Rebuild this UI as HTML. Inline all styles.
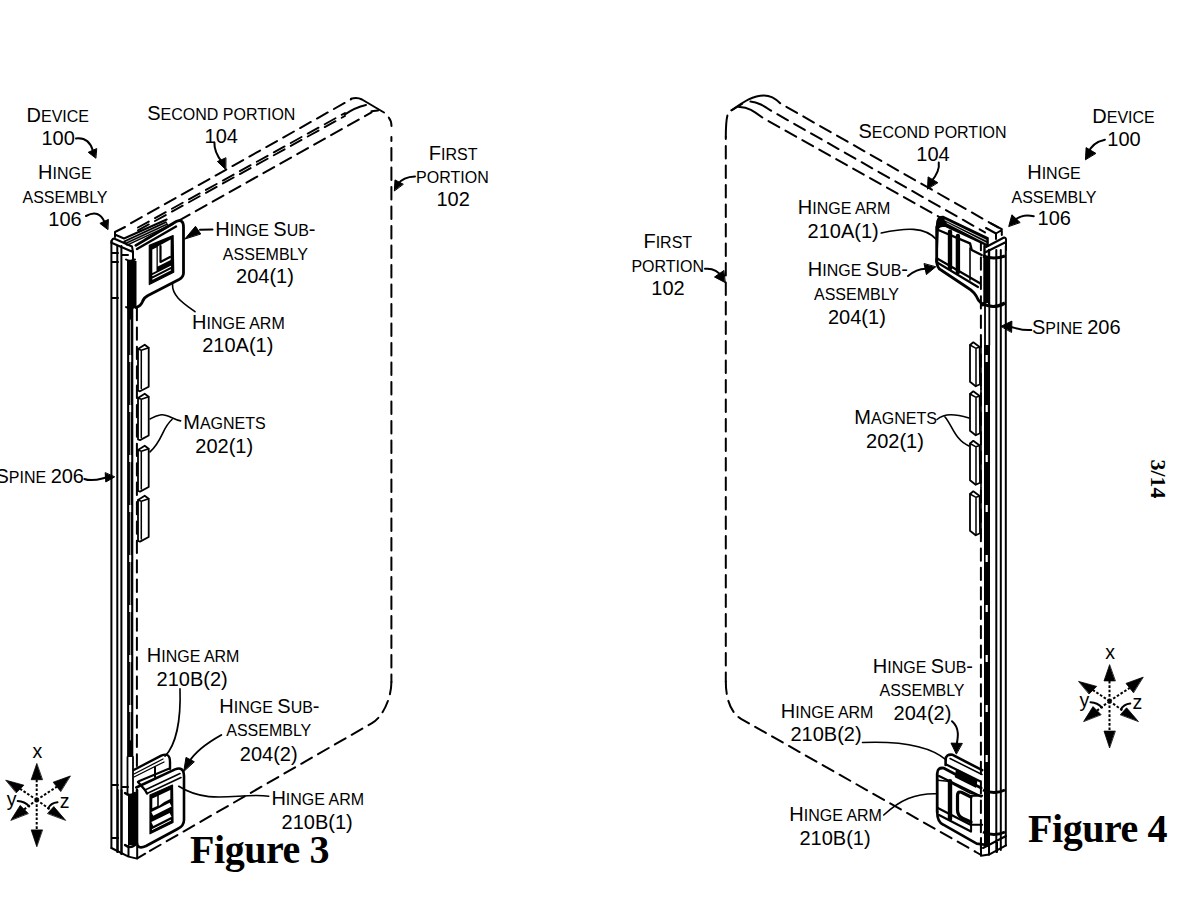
<!DOCTYPE html>
<html><head><meta charset="utf-8"><style>
html,body{margin:0;padding:0;background:#fff;width:1192px;height:900px;overflow:hidden}
svg{position:absolute;left:0;top:0}
text{font-family:"Liberation Sans",sans-serif;fill:#000}
.fig{font-family:"Liberation Serif",serif;font-weight:bold;font-size:40px;fill:#000;letter-spacing:-0.45px}
</style></head><body>
<svg width="1192" height="900" viewBox="0 0 1192 900">
<g fill="none" stroke="#000" stroke-width="2" stroke-linecap="round" stroke-linejoin="round">
<path d="M131,223.1 L351,99.4" stroke-dasharray="12.3 7.1"/>
<path d="M138,227.5 L345,113" stroke-dasharray="12.3 7.1" stroke-width="1.9"/>
<path d="M138,230.4 L345,115.9" stroke-dasharray="12.3 7.1" stroke-width="1.9"/>
<path d="M145,239.6 L371.5,112.4" stroke-dasharray="12.3 7.1"/>
<path d="M351,98.8 Q357,96.8 362,99.5 L384,112.5"/>
<path d="M345,114.4 Q355,107.5 366,105"/>
<path d="M371.5,111.3 L378,110.5"/>
<path d="M388.8,117.6 Q391.5,121 391.5,126"/>
<path d="M391.4,137 L391.4,682" stroke-dasharray="12.4 7.1" stroke-dashoffset="8.4"/>
<path d="M391.4,682 C391.4,697 383.5,716.5 372,723.1 L145,853.7" stroke-dasharray="12.3 7.1"/>
<path d="M137.2,858.3 L145.2,853.7"/>
<path d="M111.4,241 L111.4,848"/>
<path d="M117.3,246 L117.3,852"/>
<path d="M121.4,246 L121.4,854"/>
<rect x="127.1" y="307" width="6.2" height="450" fill="#000" stroke="none"/>
<path d="M130.4,320 L130.4,740" stroke="#fff" stroke-width="0.7"/>
<path d="M130.2,313 L130.2,745" stroke="#fff" stroke-width="2" stroke-dasharray="7 43" stroke-dashoffset="8" stroke-linecap="butt"/>
<path d="M136.9,308 L136.9,766" stroke-dasharray="12.3 7.1"/>
<path d="M115,232 L125,227 M115,232 L115,237 M116,235 L124,238.5 L166.7,219.5" stroke-width="2"/>
<path d="M124,241.5 L166,222 L168,226 L127,245 Z" fill="#000" stroke-width="1.4"/>
<path d="M126,242 L166,223.5 M127,244 L167,225.5" stroke="#fff" stroke-width="0.7"/>
<path d="M111.4,243 Q111.5,239 114,238.5 L132,246.5 L133,252 L112,243" stroke-width="2"/>
<path d="M128,261 L128,307 M133,252 L133,307" stroke-width="2"/>
<rect x="128" y="261" width="8.5" height="46" fill="#000" stroke="none"/>
<path d="M126,259.5 Q130,262 135,259.5 M126,307 Q130,310 135,307" stroke="#000" stroke-width="2"/>
<path d="M112,253 L118,253 M122,255 L128,255 M112,262 L118,262 M112,298 L118,298" stroke-width="2"/>
<path d="M135.9,245.4 L176.2,221.5 Q183.5,218.5 183.5,227 L183.5,273 Q183.5,277 179,279.5 L148,295.5 Q143.5,298 142.5,301.5 Q141,306 136,307.5" stroke-width="2.8"/>
<path d="M137,249 L176,226.5" stroke-width="2.4"/>
<path d="M149.3,245.4 L173.1,235.6 L173.7,272.3 L149.3,284.5 Z" fill="#000" stroke-width="1.2"/>
<path d="M152.3,249.5 L156.5,247.6 L156.5,271 L152.3,273 Z" fill="#fff" stroke="none"/>
<path d="M157.8,246.5 L170.6,239.6 L170.6,260 L157.8,266.5 Z" fill="#fff" stroke="none"/>
<path d="M160.5,246 L160.5,262 L170,257" stroke="#000" stroke-width="2.2"/>
<path d="M152.8,275.5 L170.5,266.5 M152.8,279 L170.5,270" stroke="#fff" stroke-width="1.2"/>
<path d="M138,349 L144.7,344.7 L148.7,347.7 L148.7,386.7 L140,391.3 L138,390.7 Z" stroke-width="1.8"/>
<path d="M138,349 L141.3,350.3 L148.7,347.7 M141.3,350.3 L141.3,388.7" stroke-width="1.5"/>
<path d="M138,398 L144.7,393.7 L148.7,396.7 L148.7,435.5 L140,440.1 L138,439.5 Z" stroke-width="1.8"/>
<path d="M138,398 L141.3,399.3 L148.7,396.7 M141.3,399.3 L141.3,437.5" stroke-width="1.5"/>
<path d="M138,450 L144.7,445.7 L148.7,448.7 L148.7,487 L140,491.6 L138,491 Z" stroke-width="1.8"/>
<path d="M138,450 L141.3,451.3 L148.7,448.7 M141.3,451.3 L141.3,489" stroke-width="1.5"/>
<path d="M138,500 L144.7,495.7 L148.7,498.7 L148.7,537 L140,541.6 L138,541 Z" stroke-width="1.8"/>
<path d="M138,500 L141.3,501.3 L148.7,498.7 M141.3,501.3 L141.3,539" stroke-width="1.5"/>
<path d="M133.75,770 L161.25,755.6 Q170,752 170,762 L170,768.75" stroke-width="2.4"/>
<path d="M134,774 L163,759 M134,777 L164,762" stroke-width="1.3"/>
<path d="M138.75,781.25 L168.75,768.75" stroke-width="2"/>
<path d="M155,767 L155,777" stroke-width="2"/>
<path d="M136.25,787.5 L175,769.4 Q183.75,766 184,776 L184,820 Q184,826 177.5,829 L146,846 Q137,850 137,842 L137,790" stroke-width="2.6"/>
<path d="M145,790 L180,773.5 M147,793.5 L181,777.5" stroke-width="1.6"/>
<path d="M138,782 L145,790 L147,793.5" stroke-width="2.4"/>
<path d="M150,795 L172.5,785 L173,822.5 L150,833.75 Z" fill="#000" stroke-width="1.2"/>
<path d="M152.3,798.5 L157.2,796.3 L157.2,806 L152.3,808.3 Z" fill="#fff" stroke="none"/>
<path d="M158.8,795.5 L170.3,790 L170.3,799 Q165,801 158.8,806 Z" fill="#fff" stroke="none"/>
<path d="M152.3,813.8 L170.6,804.6 M152.3,824 L170.6,814.8" stroke="#fff" stroke-width="4.2" stroke-linecap="butt"/>
<path d="M152.3,829.5 L170.6,820.3" stroke="#fff" stroke-width="1"/>
<path d="M127.5,757 L127.5,794 M133,757 L133,794" stroke-width="1.8"/>
<rect x="128" y="794" width="8.5" height="51" fill="#000" stroke="none"/>
<path d="M125,793 Q130,797 135,793 M125,845 Q130,849 135,845" stroke="#000" stroke-width="2.4"/>
<path d="M112,785 L118,785 M122,787 L128,787 M112,838 L118,838" stroke-width="2"/>
<path d="M111.4,848 L128.5,856.6 L137.2,858.6 L137.2,846 M128.5,846 L128.5,856.6" stroke-width="2"/>
<path d="M117.7,790 L117.7,852 M121.6,790 L121.6,854" stroke-width="2"/>
<path d="M76,138.5 Q89,137 93,151" stroke-width="2"/>
<path d="M95.6,158.0 L88.2,152.3 L96.4,148.7Z" fill="#000" stroke="#000" stroke-width="1"/>
<path d="M86,216 Q99,209 104.5,222" stroke-width="2"/>
<path d="M107.7,229.4 L99.9,223.4 L108.1,219.6Z" fill="#000" stroke="#000" stroke-width="1"/>
<path d="M214.4,142.5 Q214,152 222,162" stroke-width="2"/>
<path d="M225.6,169.4 L217.4,161.5 L225.6,157.9Z" fill="#000" stroke="#000" stroke-width="1"/>
<path d="M415,176.5 Q403,177 398,184" stroke-width="2"/>
<path d="M394.4,190.6 L395.0,179.9 L403.0,184.1Z" fill="#000" stroke="#000" stroke-width="1"/>
<path d="M212.5,229.5 L200,229.8" stroke-width="2"/>
<path d="M185.0,238.8 L195.5,226.3 L200.5,233.7Z" fill="#000" stroke="#000" stroke-width="1"/>
<path d="M195,311.7 C183,303 172,296 172.5,284" stroke-width="1.6"/>
<path d="M180.6,420.9 C172,419 166,413 160,415 C155,416 152,418 150,419 M172,419.5 C162,428 163,440 150,451.9" stroke-width="1.6"/>
<path d="M84.4,479 C92,482 100,479 106,477.5" stroke-width="2"/>
<path d="M114.4,477.0 L105.8,482.0 L105.2,473.0Z" fill="#000" stroke="#000" stroke-width="1"/>
<path d="M180,688.75 C181,720 176,745 165,756.25" stroke-width="1.6"/>
<path d="M221.25,735 C207,743 195,752 189,762" stroke-width="2"/>
<path d="M183.8,771.2 L186.0,757.4 L194.0,761.6Z" fill="#000" stroke="#000" stroke-width="1"/>
<path d="M268.75,796.25 C240,792 210,806 178.75,786.25" stroke-width="1.6"/>
<g transform="translate(36.7,799.9)">
<path d="M0,0 L0,-20 M0,0 L0,30 M0,0 L-16.5,-11 M0,0 L20.2,-13.2 M0,0 L-12.5,9.5 M0,0 L14,10" stroke-dasharray="2.6 1.8" stroke-width="2" stroke-linecap="butt"/>
<path d="M0.0,-36.1 L-5.5,-20.2 L5.5,-20.2Z" fill="#000" stroke="#000" stroke-width="0.8"/>
<path d="M0.0,46.5 L-5.5,30.0 L5.5,30.0Z" fill="#000" stroke="#000" stroke-width="0.8"/>
<path d="M-30.6,-19.6 L-12.8,-14.7 L-20.2,-7.3Z" fill="#000" stroke="#000" stroke-width="0.8"/>
<path d="M33.4,-23.8 L16.5,-17.7 L23.8,-8.6Z" fill="#000" stroke="#000" stroke-width="0.8"/>
<path d="M-25.7,20.2 L-16.5,5.5 L-8.6,13.4Z" fill="#000" stroke="#000" stroke-width="0.8"/>
<path d="M28.7,20.2 L17.1,6.7 L11.0,13.4Z" fill="#000" stroke="#000" stroke-width="0.8"/>
<path d="M-19,1.2 Q-12,1.5 -7.5,6.5 M20.8,2.4 Q14,3 11.5,8.5" stroke-width="2"/>
</g>
<path d="M780.2,103.3 L998,227.4" stroke-dasharray="12.3 7.1" stroke-dashoffset="12.3"/>
<path d="M771.1,110.7 L985,232.4" stroke-dasharray="12.3 7.1" stroke-dashoffset="12.3"/>
<path d="M762.3,117.7 L972,235.3" stroke-dasharray="12.3 7.1" stroke-dashoffset="12.3"/>
<path d="M731.5,110.3 C745,101 753,95.5 764,95.5 C771,95.5 776,99 780.2,103.3"/>
<path d="M731.5,110.3 L742,104 M750.4,101.5 C758,102 764,106 771.1,110.7"/>
<path d="M739,106.9 C748,106.5 755,112 762.3,117.5"/>
<path d="M727.4,115.4 Q725.8,122 725.8,137"/>
<path d="M725.8,137 L725.8,681.6" stroke-dasharray="12.4 7.1" stroke-dashoffset="10.4"/>
<path d="M725.8,681.6 C725.8,697 730,712.6 741,718.8 L975,851.5" stroke-dasharray="12.3 7.1"/>
<path d="M975,851.5 L981,855"/>
<path d="M1005.8,246 L1005.8,845.4"/>
<path d="M1000.8,250 L1000.8,850"/>
<path d="M996.3,250 L996.3,852"/>
<rect x="984" y="345" width="6" height="500" fill="#000" stroke="none"/>
<path d="M986.7,355 L986.7,790" stroke="#fff" stroke-width="2.2" stroke-dasharray="7 43" stroke-dashoffset="0" stroke-linecap="butt"/>
<path d="M985,303 L985,345 M989.3,303 L989.3,345" stroke-width="1.8"/>
<path d="M980.9,238 L980.9,850" stroke-dasharray="12.3 7.1"/>
<path d="M991,223.4 L1001.8,229.1 L1001.8,235 M1001.8,230 L996,233.5 L996,239 M996,233.5 L986,228" stroke-width="2"/>
<path d="M986,247 L1004,237.5 Q1006.5,237 1006,242 L1006,250 M986,252 L1006,242" stroke-width="2"/>
<path d="M983,256 Q994,260 1005,256" stroke-width="3" stroke-linecap="butt"/>
<path d="M982,303 Q993,310 1005,303" stroke-width="3.2" stroke-linecap="butt"/>
<path d="M984.5,246 L984.5,303 M989,250 L989,303" stroke-width="2.4"/>
<rect x="984" y="258" width="6" height="45" fill="#000" stroke="none"/>
<path d="M936.7,262 L936.7,225 Q936.7,216 943,216.5 L988,238 L988,246 L945,226 Q938,226 938,230 Z" fill="#000" stroke-width="1.6"/>
<path d="M945,220 L986,240 M947,223 L986,243" stroke="#fff" stroke-width="0.8"/>
<path d="M936.7,227 L936.7,262" stroke-width="2.8"/>
<path d="M938.3,230 L970,243.3 L971.7,250 L981.7,255" stroke-width="2.4"/>
<path d="M936.7,260 Q936.7,268 941,270 L968,288 Q975,292 978.3,300 L983,305" stroke-width="2.8"/>
<path d="M936.7,258.3 L980,283.3 M938,263 L978,287" stroke-width="2.2"/>
<path d="M950,231.7 L950,268.3 M957.9,236 L957.9,272" stroke-width="4.4"/>
<path d="M970,248 L970,280" stroke-width="1.6"/>
<path d="M970,345 L973.3,342.3 L979.7,347 L980,384.3 L975.7,386.3 L970,381.7 Z" fill="#fff" stroke-width="1.8"/>
<path d="M970,345 L976,348.3 L979.7,347 M976,348.3 L976,385.8" stroke-width="1.5"/>
<path d="M981,339 L981,389.3" stroke-width="1.6"/>
<path d="M970,394 L973.3,391.3 L979.7,396 L980,433.3 L975.7,435.3 L970,430.7 Z" fill="#fff" stroke-width="1.8"/>
<path d="M970,394 L976,397.3 L979.7,396 M976,397.3 L976,434.8" stroke-width="1.5"/>
<path d="M981,388 L981,438.3" stroke-width="1.6"/>
<path d="M970,443.5 L973.3,440.8 L979.7,445.5 L980,482.8 L975.7,484.8 L970,480.2 Z" fill="#fff" stroke-width="1.8"/>
<path d="M970,443.5 L976,446.8 L979.7,445.5 M976,446.8 L976,484.3" stroke-width="1.5"/>
<path d="M981,437.5 L981,487.8" stroke-width="1.6"/>
<path d="M970,494 L973.3,491.3 L979.7,496 L980,533.3 L975.7,535.3 L970,530.6999999999999 Z" fill="#fff" stroke-width="1.8"/>
<path d="M970,494 L976,497.3 L979.7,496 M976,497.3 L976,534.8" stroke-width="1.5"/>
<path d="M981,488 L981,538.3" stroke-width="1.6"/>
<path d="M945.6,765 L945.6,759.5 Q946,754 952.2,754.7 L982.2,770.2" stroke-width="2.6"/>
<path d="M950,758.5 L982,774.5" stroke-width="1.5"/>
<path d="M946.7,764.7 L980,781.3" stroke-width="2.2"/>
<path d="M956.7,769.7 L976.7,780.2 L975.6,786.9 L955.6,776.9 Z" fill="#000" stroke-width="1.6"/>
<path d="M937.2,812 L937.2,774 Q937.2,767 944,768.2 L981.1,788" stroke-width="2.8"/>
<path d="M939,776 L981,796.5" stroke-width="2.2"/>
<path d="M937.8,780.2 L947.8,781.3 L970,793 L981,795.8" stroke-width="1.6"/>
<path d="M937.2,812 Q937.2,822 943.3,824.7 L976.7,843.6 L987,845" stroke-width="2.6"/>
<path d="M950,781.3 L950,819" stroke-width="4.4"/>
<path d="M971,797 L963,793 Q957.5,790 957.5,796 L957.5,810 Q957.5,816 963,818.5 L971,822" stroke-width="3.2"/>
<path d="M937.8,808 L971,825 M939,815 L971,831.5" stroke-width="2.2"/>
<path d="M971.1,795.8 L971.1,831 M971.1,795.8 L982.2,795.8 M971.1,824.7 L982.2,824.7" stroke-width="2"/>
<path d="M983,790 Q994,795 1005,790 M983,832 Q994,837 1005,832" stroke-width="3" stroke-linecap="butt"/>
<path d="M1006,845.4 L989,854.6 L981,855.8 L981,838 M989,845 L989,855 M997,840 L997,852 M983,848 L1006,836" stroke-width="2"/>
<path d="M1104.9,139.75 C1095,142 1090,148 1088.5,153" stroke-width="2"/>
<path d="M1085.5,159.4 L1086.1,147.6 L1095.6,153.2Z" fill="#000" stroke="#000" stroke-width="1"/>
<path d="M1033.75,216.25 C1025,214 1018,217 1014,221" stroke-width="2"/>
<path d="M1008.8,226.2 L1011.9,214.8 L1019.9,222.3Z" fill="#000" stroke="#000" stroke-width="1"/>
<path d="M938.75,162.5 C940,170 936,176 931,182" stroke-width="2"/>
<path d="M927.5,188.8 L928.1,176.9 L937.6,182.5Z" fill="#000" stroke="#000" stroke-width="1"/>
<path d="M705,268.75 C714,268 719,272 722,277" stroke-width="2"/>
<path d="M725.0,282.5 L714.5,277.0 L723.6,270.7Z" fill="#000" stroke="#000" stroke-width="1"/>
<path d="M881.25,233 C905,228 925,226 937,240" stroke-width="1.6"/>
<path d="M908,276 C915,270 921,268 928,268.8" stroke-width="2"/>
<path d="M935.5,267.0 L926.4,274.6 L924.1,263.9Z" fill="#000" stroke="#000" stroke-width="1"/>
<path d="M1031.25,330 C1020,331 1015,327 1008,326.5" stroke-width="2"/>
<path d="M1001.2,326.2 L1011.9,321.1 L1011.6,332.1Z" fill="#000" stroke="#000" stroke-width="1"/>
<path d="M937,419.5 C945,413 955,414 969,418 M945,417 C952,425 955,440 969,446" stroke-width="1.6"/>
<path d="M952,721.25 C960,728 958,738 956.5,745" stroke-width="2"/>
<path d="M956.2,753.8 L951.0,743.1 L962.0,743.4Z" fill="#000" stroke="#000" stroke-width="1"/>
<path d="M862.5,742.5 C900,741 930,746 946.25,760" stroke-width="1.6"/>
<path d="M883.75,815 C900,800 915,793 937.5,793.75" stroke-width="1.6"/>
<g transform="translate(1109.5,701.1)">
<path d="M0,0 L0,-20 M0,0 L0,30 M0,0 L-16.5,-11 M0,0 L20.2,-13.2 M0,0 L-12.5,9.5 M0,0 L14,10" stroke-dasharray="2.6 1.8" stroke-width="2" stroke-linecap="butt"/>
<path d="M0.0,-36.1 L-5.5,-20.2 L5.5,-20.2Z" fill="#000" stroke="#000" stroke-width="0.8"/>
<path d="M0.0,46.5 L-5.5,30.0 L5.5,30.0Z" fill="#000" stroke="#000" stroke-width="0.8"/>
<path d="M-30.6,-19.6 L-12.8,-14.7 L-20.2,-7.3Z" fill="#000" stroke="#000" stroke-width="0.8"/>
<path d="M33.4,-23.8 L16.5,-17.7 L23.8,-8.6Z" fill="#000" stroke="#000" stroke-width="0.8"/>
<path d="M-25.7,20.2 L-16.5,5.5 L-8.6,13.4Z" fill="#000" stroke="#000" stroke-width="0.8"/>
<path d="M28.7,20.2 L17.1,6.7 L11.0,13.4Z" fill="#000" stroke="#000" stroke-width="0.8"/>
<path d="M-19,1.2 Q-12,1.5 -7.5,6.5 M20.8,2.4 Q14,3 11.5,8.5" stroke-width="2"/>
</g>
</g>
<text x="57.75" y="121.5" text-anchor="middle"><tspan font-size="20">D</tspan><tspan font-size="16">EVICE</tspan></text>
<text x="58.1" y="145" text-anchor="middle"><tspan font-size="20">100</tspan></text>
<text x="64.9" y="178.5" text-anchor="middle"><tspan font-size="20">H</tspan><tspan font-size="16">INGE</tspan></text>
<text x="65" y="202.5" text-anchor="middle"><tspan font-size="16">ASSEMBLY</tspan></text>
<text x="65" y="225.6" text-anchor="middle"><tspan font-size="20">106</tspan></text>
<text x="221.3" y="120" text-anchor="middle"><tspan font-size="20">S</tspan><tspan font-size="16">ECOND PORTION</tspan></text>
<text x="221.25" y="143.1" text-anchor="middle"><tspan font-size="20">104</tspan></text>
<text x="453.1" y="159.75" text-anchor="middle"><tspan font-size="20">F</tspan><tspan font-size="16">IRST</tspan></text>
<text x="452.4" y="183.1" text-anchor="middle"><tspan font-size="16">PORTION</tspan></text>
<text x="453.1" y="206.25" text-anchor="middle"><tspan font-size="20">102</tspan></text>
<text x="265.4" y="236.25" text-anchor="middle"><tspan font-size="20">H</tspan><tspan font-size="16">INGE </tspan><tspan font-size="20">S</tspan><tspan font-size="16">UB</tspan><tspan font-size="20">-</tspan></text>
<text x="265.4" y="260" text-anchor="middle"><tspan font-size="16">ASSEMBLY</tspan></text>
<text x="265" y="283.25" text-anchor="middle"><tspan font-size="20">204(1)</tspan></text>
<text x="238.4" y="328.75" text-anchor="middle"><tspan font-size="20">H</tspan><tspan font-size="16">INGE ARM</tspan></text>
<text x="237.75" y="352" text-anchor="middle"><tspan font-size="20">210A(1)</tspan></text>
<text x="224.5" y="428.75" text-anchor="middle"><tspan font-size="20">M</tspan><tspan font-size="16">AGNETS</tspan></text>
<text x="224.2" y="452.5" text-anchor="middle"><tspan font-size="20">202(1)</tspan></text>
<text x="84" y="482.5" text-anchor="end"><tspan font-size="20">S</tspan><tspan font-size="16">PINE </tspan><tspan font-size="20">206</tspan></text>
<text x="193.1" y="662" text-anchor="middle"><tspan font-size="20">H</tspan><tspan font-size="16">INGE ARM</tspan></text>
<text x="192.1" y="685.5" text-anchor="middle"><tspan font-size="20">210B(2)</tspan></text>
<text x="269.4" y="713.25" text-anchor="middle"><tspan font-size="20">H</tspan><tspan font-size="16">INGE </tspan><tspan font-size="20">S</tspan><tspan font-size="16">UB</tspan><tspan font-size="20">-</tspan></text>
<text x="268.75" y="736.25" text-anchor="middle"><tspan font-size="16">ASSEMBLY</tspan></text>
<text x="268.75" y="760.5" text-anchor="middle"><tspan font-size="20">204(2)</tspan></text>
<text x="317.75" y="805" text-anchor="middle"><tspan font-size="20">H</tspan><tspan font-size="16">INGE ARM</tspan></text>
<text x="317.1" y="828.75" text-anchor="middle"><tspan font-size="20">210B(1)</tspan></text>
<text x="1123.5" y="122.5" text-anchor="middle"><tspan font-size="20">D</tspan><tspan font-size="16">EVICE</tspan></text>
<text x="1124" y="146.25" text-anchor="middle"><tspan font-size="20">100</tspan></text>
<text x="1054" y="178.75" text-anchor="middle"><tspan font-size="20">H</tspan><tspan font-size="16">INGE</tspan></text>
<text x="1054" y="202.5" text-anchor="middle"><tspan font-size="16">ASSEMBLY</tspan></text>
<text x="1054.25" y="225" text-anchor="middle"><tspan font-size="20">106</tspan></text>
<text x="932.5" y="137.5" text-anchor="middle"><tspan font-size="20">S</tspan><tspan font-size="16">ECOND PORTION</tspan></text>
<text x="933" y="161.25" text-anchor="middle"><tspan font-size="20">104</tspan></text>
<text x="844.1" y="214.25" text-anchor="middle"><tspan font-size="20">H</tspan><tspan font-size="16">INGE ARM</tspan></text>
<text x="843.1" y="237.5" text-anchor="middle"><tspan font-size="20">210A(1)</tspan></text>
<text x="667.75" y="248" text-anchor="middle"><tspan font-size="20">F</tspan><tspan font-size="16">IRST</tspan></text>
<text x="667.75" y="272" text-anchor="middle"><tspan font-size="16">PORTION</tspan></text>
<text x="668" y="294.5" text-anchor="middle"><tspan font-size="20">102</tspan></text>
<text x="857.9" y="276.25" text-anchor="middle"><tspan font-size="20">H</tspan><tspan font-size="16">INGE </tspan><tspan font-size="20">S</tspan><tspan font-size="16">UB</tspan><tspan font-size="20">-</tspan></text>
<text x="856.5" y="300" text-anchor="middle"><tspan font-size="16">ASSEMBLY</tspan></text>
<text x="856.9" y="323.75" text-anchor="middle"><tspan font-size="20">204(1)</tspan></text>
<text x="1032" y="333.75" text-anchor="start"><tspan font-size="20">S</tspan><tspan font-size="16">PINE </tspan><tspan font-size="20">206</tspan></text>
<text x="895.6" y="423.75" text-anchor="middle"><tspan font-size="20">M</tspan><tspan font-size="16">AGNETS</tspan></text>
<text x="895" y="447.5" text-anchor="middle"><tspan font-size="20">202(1)</tspan></text>
<text x="922.9" y="672.5" text-anchor="middle"><tspan font-size="20">H</tspan><tspan font-size="16">INGE </tspan><tspan font-size="20">S</tspan><tspan font-size="16">UB</tspan><tspan font-size="20">-</tspan></text>
<text x="922" y="695.5" text-anchor="middle"><tspan font-size="16">ASSEMBLY</tspan></text>
<text x="922.5" y="719.5" text-anchor="middle"><tspan font-size="20">204(2)</tspan></text>
<text x="827.1" y="718" text-anchor="middle"><tspan font-size="20">H</tspan><tspan font-size="16">INGE ARM</tspan></text>
<text x="826" y="741.25" text-anchor="middle"><tspan font-size="20">210B(2)</tspan></text>
<text x="835.6" y="821.25" text-anchor="middle"><tspan font-size="20">H</tspan><tspan font-size="16">INGE ARM</tspan></text>
<text x="835" y="844.5" text-anchor="middle"><tspan font-size="20">210B(1)</tspan></text>
<text x="37.400000000000006" y="758.1" text-anchor="middle" font-size="19.5">x</text><text x="6.700000000000003" y="806.1999999999999" font-size="19.5">y</text><text x="59.7" y="807.6" font-size="19.5">z</text><text x="1110.2" y="659.3000000000001" text-anchor="middle" font-size="19.5">x</text><text x="1079.5" y="707.4" font-size="19.5">y</text><text x="1132.5" y="708.8000000000001" font-size="19.5">z</text>
<text class="fig" x="190" y="863.3">Figure 3</text>
<text class="fig" x="1028" y="841.6">Figure 4</text>
<text class="fig" style="font-size:22px;letter-spacing:0" transform="translate(1150.6,459.5) rotate(90)" x="0" y="0">3/14</text>
</svg>
</body></html>
